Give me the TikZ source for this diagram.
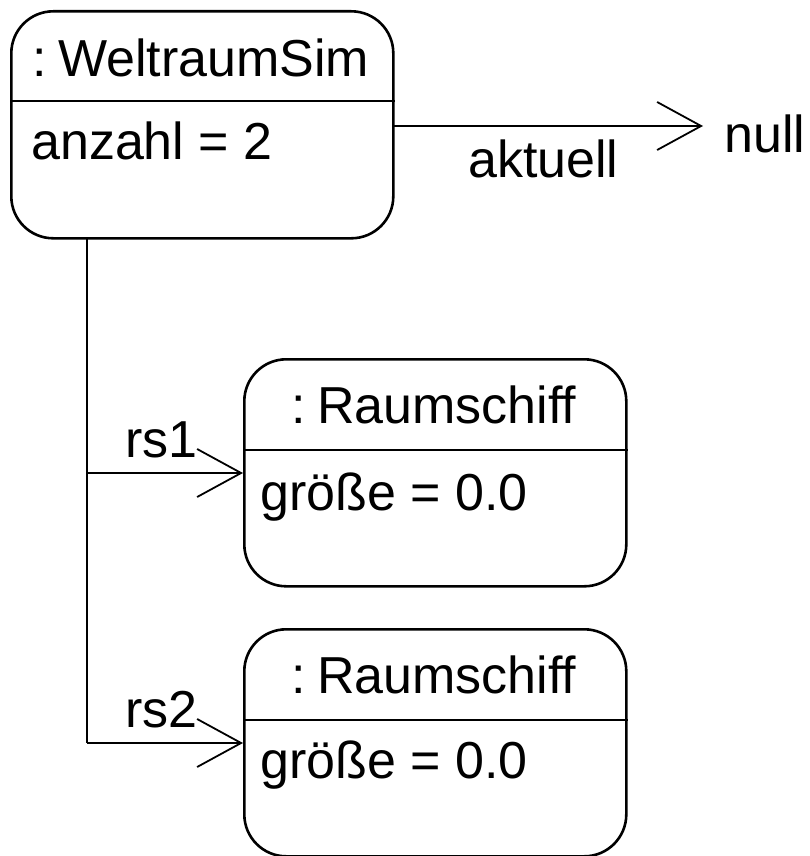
\documentclass[tikz,border=0pt]{standalone}
\usepackage{fontspec}
\setmainfont{Liberation Sans}
\usetikzlibrary{arrows.meta}
\begin{document}
\begin{tikzpicture}[x=1pt,y=-1pt,
  obj/.style={draw, line width=2.6pt, rounded corners=42pt, minimum width=382pt, minimum height=227pt, anchor=north west, inner sep=0pt},
  txt/.style={inner sep=0pt, font=\fontsize{52}{62}\selectfont},
  conn/.style={line width=2.6pt},
  barb/.style={-{Straight Barb[length=44pt,width=48pt,line width=1.8pt]}}
]
\useasboundingbox (0,0) rectangle (810,856);
% objects
\node[obj] (ws) at (10,10) {};
\node[obj] (r1) at (243,358) {};
\node[obj] (r2) at (243,628) {};
% dividers
\draw[conn] (ws.west |- 0,101) -- (ws.east |- 0,101);
\draw[conn] (r1.west |- 0,450) -- (r1.east |- 0,450);
\draw[conn] (r2.west |- 0,720) -- (r2.east |- 0,720);
% texts
\node[txt, anchor=base] (wst) at (201,77) {:\kern11pt WeltraumSim};
\node[txt, anchor=base west] (wsa) at (31,159) {anzahl = 2};
\node[txt, anchor=base] (r1t) at (434,423) {:\kern11pt Raumschiff};
\node[txt, anchor=base west] (r1a) at (260,510) {größe = 0.0};
\node[txt, anchor=base] (r2t) at (434,693) {:\kern11pt Raumschiff};
\node[txt, anchor=base west] (r2a) at (260,778) {größe = 0.0};
\node[txt, anchor=base west] (nul) at (724,153) {null};
\node[txt, anchor=base west] (akt) at (468,177) {aktuell};
\node[txt, anchor=base west] (rs1) at (125,457) {rs1};
\node[txt, anchor=base west] (rs2) at (125,727) {rs2};
% connectors
\coordinate (a0) at (392,126);
\coordinate (atip) at (703,126);
\coordinate (v0) at (87,238);
\coordinate (j1) at (87,473);
\coordinate (j2) at (87,743);
\draw[conn, barb] (a0) -- (atip);
\draw[conn] (v0) -- (j2);
\draw[conn, barb] (j1) -- (r1.west |- j1);
\draw[conn, barb] (j2) -- (r2.west |- j2);
\end{tikzpicture}
\end{document}
